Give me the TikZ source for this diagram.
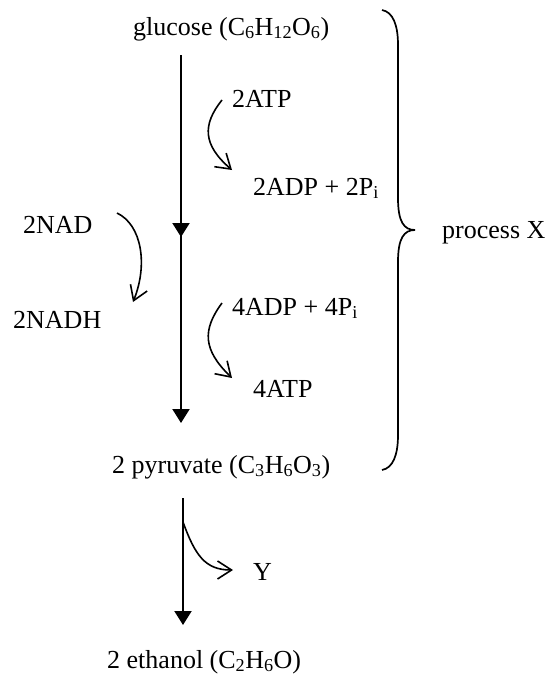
\documentclass[tikz,border=0pt]{standalone}
\usepackage{fontspec}
\setmainfont{Liberation Serif}
\usetikzlibrary{arrows.meta}
\begin{document}
\begin{tikzpicture}[x=1pt,y=-1pt,
  lbl/.style={anchor=base west,inner sep=0pt,font=\fontsize{26}{30}\selectfont},
  mainline/.style={line width=2pt,-{Triangle[length=14pt,width=17pt]}},
  bent/.style={line width=1.6pt,-{Straight Barb[length=14pt,width=18pt,line width=1.6pt]}},
  brace/.style={line width=1.7pt}]
\useasboundingbox (0,0) rectangle (550,680);
% texts
\node[lbl] (glu) at (133,35) {glucose (C\textsubscript{6}H\textsubscript{12}O\textsubscript{6})};
\node[lbl] (atp2) at (232,107) {2ATP};
\node[lbl] (adp2) at (253,195) {2ADP + 2P\textsubscript{i}};
\node[lbl] (nad) at (23,233) {2NAD};
\node[lbl] (nadh) at (13,328) {2NADH};
\node[lbl] (adp4) at (232,315) {4ADP + 4P\textsubscript{i}};
\node[lbl] (atp4) at (253,397) {4ATP};
\node[lbl] (pyr) at (112,473) {2 pyruvate (C\textsubscript{3}H\textsubscript{6}O\textsubscript{3})};
\node[lbl] (yy) at (253,580) {Y};
\node[lbl] (eth) at (107,668) {2 ethanol (C\textsubscript{2}H\textsubscript{6}O)};
\node[lbl] (px) at (442,238) {process X};
% main line coordinates
\coordinate (m0) at (181,55);
\coordinate (m1) at (181,237);
\coordinate (m2) at (181,423);
\coordinate (e0) at (183,498);
\coordinate (e1) at (183,625);
\coordinate (ybr) at (183,522);
\coordinate (ytip) at (233,570);
\draw[mainline] (m0) -- (m1);
\draw[line width=2pt] (m1) -- ++(0,-2);
\draw[mainline] (m1) -- (m2);
\draw[mainline] (e0) -- (e1);
% side arrows
\coordinate (a1s) at (222,100);
\coordinate (a1e) at (232,170);
\draw[bent] (a1s) .. controls (202,125) and (203,145) .. (a1e);
\coordinate (a2s) at (222,303);
\coordinate (a2e) at (232,378);
\draw[bent] (a2s) .. controls (202,330) and (203,350) .. (a2e);
\coordinate (n1s) at (117,213);
\coordinate (n1e) at (133,302);
\draw[bent] (n1s) .. controls (142,225) and (148,265) .. (n1e);
\draw[bent] (ybr) .. controls (195,555) and (205,570) .. (ytip);
% brace
\coordinate (bt) at (382,10);
\coordinate (bm) at (415,230);
\coordinate (bb) at (382,470);
\draw[brace] (bt) .. controls (393,12) and (398,25) .. (398,45) -- (398,198)
  .. controls (398,222) and (404,230) .. (bm)
  .. controls (404,230) and (398,238) .. (398,262) -- (398,435)
  .. controls (398,455) and (393,468) .. (bb);
\end{tikzpicture}
\end{document}
